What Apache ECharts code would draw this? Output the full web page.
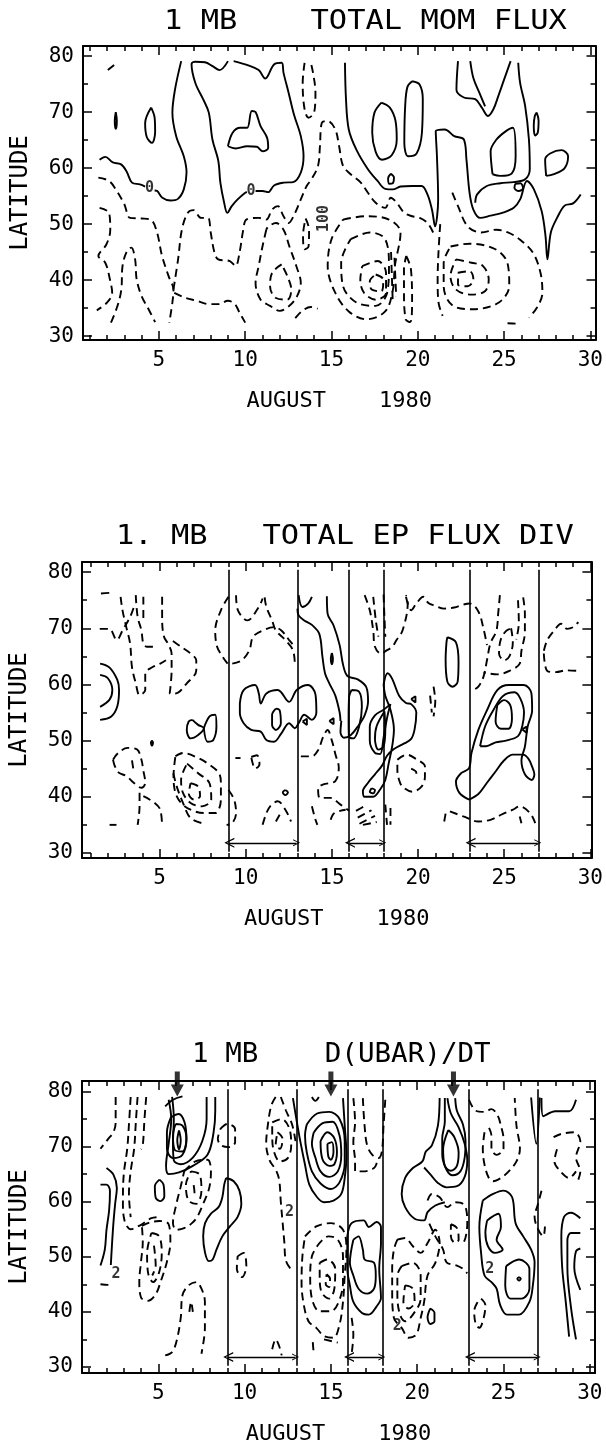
<!DOCTYPE html>
<html>
<head>
<meta charset="utf-8">
<script src="https://cdn.jsdelivr.net/npm/echarts@6/dist/echarts.min.js"></script>
<style>
html,body{margin:0;padding:0;background:#fff;}
#chart{width:606px;height:1446px;}
</style>
</head>
<body>
<div id="chart"></div>
<script>
// ---------------- DATA ----------------
const dayTicks = [1,2,3,4,5,6,7,8,9,10,11,12,13,14,15,16,17,18,19,20,21,22,23,24,25,26,27,28,29,30];
const dayLabels = [5,10,15,20,25,30];
const latMinor = [30,35,40,45,50,55,60,65,70,75,80];
const latLabels = [30,40,50,60,70,80];
const titles = ["1 MB    TOTAL MOM FLUX", "1. MB   TOTAL EP FLUX DIV", "1 MB    D(UBAR)/DT"];
const xTitle = "AUGUST    1980";
const yTitle = "LATITUDE";
const periods = [[9,13],[16,18],[23,27]];
const arrowDays = [6.1, 15, 22.1];

// Panel 1: total momentum flux (solid = positive / zero, dashed = negative)
const p1Solid = [
 [[2.5,70],[2.56,68.5],[2.5,67],[2.44,68.5],[2.5,70]],
 [[4.55,70.8],[4.75,69],[4.78,66.5],[4.6,64.5],[4.3,65.5],[4.2,68],[4.55,70.8]],
 [[1.56,61.5],[1.89,62],[2.33,61],[2.78,60.7],[3.11,59.5],[3.44,57.4],[3.9,57.1],[4.2,56.7]],
 [[4.75,56],[4.9,55.9],[5.2,54.7],[5.67,54.2],[6.1,54.5],[6.44,56.2],[6.6,59.2],[6.44,62.1],[6,65.7],[5.78,69.9],[5.93,74],[6.29,79.1]],
 [[9.0,79.1],[8.51,77.5],[8.11,78.2],[7.67,78.9],[7.1,79.0],[6.89,78.6],[7.11,75.2],[7.56,72.3],[7.89,69.9],[8.1,65.1],[8.44,61.3],[8.56,57.4],[8.78,53.8],[8.96,52],[9.22,53.2],[9.56,54.4],[10.0,55.6],[10.1,55.7]],
 [[10.6,55.9],[11.0,55.9],[11.33,55.7],[11.67,56.9],[12.22,57.4],[12.78,57.5],[13.22,59.2],[13.38,62.1],[13.22,65.7],[12.82,69.6],[12.51,73.5],[12.22,77],[12.11,78.8],[11.67,78.5],[11.16,76],[10.78,77.5],[10.22,78.3],[9.33,79.1]],
 [[9,63.9],[9.27,66.3],[9.71,67.2],[10.11,67.2],[10.38,70.2],[10.6,70],[10.89,67.5],[11.27,65.4],[11.33,63.6],[11,63],[10.67,63.8],[10.11,63.9],[9.44,63.5],[9,63.9]],
 [[15.78,78.8],[15.84,72.3],[16,66.9],[16.44,63.3],[17.11,59.8],[17.67,57.7],[18.11,56.3],[18.56,56.2],[19,56.7],[19.67,56.8],[20.22,56.8],[20.56,55.3],[20.82,52.6],[21,49.6],[21.18,54.4],[21.11,62.1],[21.04,66.6],[21.56,66.9],[22.11,65.7],[22.67,65.1],[22.82,61.5],[23,55.6],[23.22,52.6],[23.62,51.1],[24.22,51.5],[24.89,52],[25.56,52.9],[25.93,54.4],[26.33,57.7],[26.73,56.2],[27.18,52.3],[27.4,47.9],[27.51,43.7],[27.71,48.5],[28.07,51.1],[28.51,53.3],[29,53.7],[29.44,55.3]],
 [[18.44,59],[18.62,58.3],[18.55,57.3],[18.35,57.2],[18.28,58.2],[18.44,59]],
 [[25.65,57.2],[25.95,57.3],[26.1,56.4],[25.85,55.9],[25.6,56.5],[25.65,57.2]],
 [[17.89,71.7],[18.38,70.8],[18.71,68.4],[18.78,65.1],[18.49,62.3],[17.93,61.5],[17.56,62.9],[17.36,66.3],[17.49,69.9],[17.89,71.7]],
 [[19.67,75.5],[20.11,74.9],[20.29,72.3],[20.24,66.3],[19.93,62.6],[19.44,62.1],[19.22,64.5],[19.27,71.1],[19.4,74.5],[19.67,75.5]],
 [[22.33,79.1],[22.24,74],[22.67,72.6],[23.33,72.3],[23.71,70.8],[24.07,69.3],[24.38,70.5],[24.67,72.9],[25,75.8],[25.38,79.1]],
 [[23.04,79.1],[23.22,76.1],[23.56,73.5],[23.9,71]],
 [[25.82,78.8],[25.93,75.2],[26.22,71.1],[26.44,65.1],[26.49,59.8],[26.22,58],[25.56,57.5],[24.78,57.3],[24,56.8],[23.44,55.3],[23.33,53.8]],
 [[24.33,58.9],[24.22,63],[24.56,65.1],[25.11,66.6],[25.51,67.2],[25.67,62.1],[25.44,59],[24.78,58.6],[24.33,58.9]],
 [[26.89,69.9],[27.0,68.5],[26.95,66.3],[26.8,65.8],[26.72,67.5],[26.78,69.3],[26.89,69.9]],
 [[27.44,58.6],[27.38,61.5],[27.67,62.6],[28.33,63.2],[28.71,62.1],[28.51,60],[27.89,58.9],[27.44,58.6]]
];
const p1Dashed = [
 [[2.04,77.5],[2.55,78.8]],
 [[1.49,58.3],[2.11,57.7],[2.56,55.9],[3,53.5],[3.33,51.1],[4,51],[4.56,50.7],[4.89,48.5],[5.18,44.3],[5.56,40.7],[5.84,38.3],[5.78,36],[5.6,32.4]],
 [[5.84,38.3],[6.11,43.7],[6.33,49],[6.67,52],[7,52.5],[7.44,51.1],[7.84,51.1],[8,48.5],[8.22,44.9],[8.44,43.7],[9.11,43.4],[9.44,42.5],[9.67,44.9],[9.89,49],[10.07,50.8],[10.78,51.1],[11.22,50.8],[11.56,52.6],[11.89,53.2],[12.22,51.4],[12.51,50.2],[12.89,52],[13.22,54.4],[13.56,56.8],[13.84,58],[14.22,60.4],[14.33,63.9],[14.44,68.1],[14.78,68.4],[15.22,66.9],[15.44,63.9],[15.67,60.4],[16.11,58.9],[16.67,57.5],[17.11,55.6],[17.56,53.8],[18.11,52.9],[18.44,54.7],[18.78,53.8],[19.22,52],[19.67,51.4],[20.11,51.1],[20.56,50.2],[20.89,48.5]],
 [[13.44,78.8],[13.33,75.2],[13.44,70.5],[13.67,69],[14,70],[14.07,73.5],[13.93,77],[13.78,79.1]],
 [[1.56,52.9],[2.11,52],[2.18,49],[1.96,46.4],[1.49,44.3],[1.89,43.1],[2.16,40.1],[2.29,37.7],[2,36],[1.4,34.6]],
 [[2.22,32.4],[2.6,35.4],[2.82,38.3],[2.89,42.5],[3.11,44.9],[3.4,45.8],[3.62,43.7],[3.71,40.1],[4,37.1],[4.4,34.8],[4.78,32.5]],
 [[5.89,37.7],[6.56,36.8],[7.22,36.3],[7.89,35.7],[8.44,35.7],[9,36.3],[9.4,35.7],[9.67,34.2],[10,32.4]],
 [[11.22,49],[11,46],[10.78,42.5],[10.6,39.5],[10.89,36.5],[11.44,35.4],[12,34.5],[12.56,35.4],[13,37.1],[13.22,39.5],[12.96,42.5],[12.56,46],[12.22,49],[11.78,50.2],[11.33,49.5],[11.22,49]],
 [[12.11,42.8],[11.56,41.3],[11.44,38.9],[11.78,36.8],[12.44,36.5],[12.67,38.3],[12.44,40.7],[12.11,42.8]],
 [[12.9,33.2],[13.3,34.5],[13.8,35.2],[14.2,34.9]],
 [[13.5,51],[13.7,49],[13.67,46],[13.44,45.5],[13.35,48],[13.5,51]],
 [[15.67,50.8],[17,51.4],[18.33,50.8],[19,48.5],[18.67,42.5],[18.56,38.3],[18.11,34.4],[17,33],[16,34.4],[15.22,37.7],[14.78,42.5],[15,47.3],[15.67,50.8]],
 [[16.11,47.3],[17.22,48.5],[18.11,47.3],[18.33,42.5],[18.22,37.7],[17.56,35.4],[16.44,36],[15.67,38.9],[15.56,43.1],[16.11,47.3]],
 [[16.78,42.5],[17.67,43.4],[18.16,41.3],[18.16,37.7],[17.56,36.5],[16.89,37.7],[16.67,40.1],[16.78,42.5]],
 [[17.56,41],[18,40.1],[17.89,38],[17.33,38.3],[17.22,39.8],[17.56,41]],
 [[18.45,45],[18.55,36]],
 [[18.65,44],[18.75,37]],
 [[19.33,44.3],[19.6,42],[19.67,36],[19.56,32.5],[19.3,33],[19.2,38],[19.2,42],[19.33,44.3]],
 [[22,55.6],[22.33,53.2],[22.89,49.6],[23.67,48.5],[24.56,49],[25.22,48.5],[25.89,47.3],[26.67,44.9],[27.11,41.3],[27.22,37.7],[26.89,35],[26.44,33.3]],
 [[21.9,46],[23,46.5],[24.5,45.5],[25.2,43],[25.3,39],[24.7,36],[23.2,34.8],[22,35.5],[21.5,39],[21.5,43],[21.9,46]],
 [[22.22,43.7],[23.11,43.1],[23.78,42.5],[24.11,40.1],[23.89,38],[23.11,37.4],[22.22,38.3],[21.89,40.7],[22.22,43.7]],
 [[22.33,41.3],[23,41.6],[23.22,40.1],[22.89,38.9],[22.33,39.2],[22.33,41.3]],
 [[21.3,50],[21.2,45],[21.15,40],[21.2,36],[21.44,33.6]],
 [[25.2,32.3],[25.8,32.2]]
];
const p1Labels = [[4.45,56.4,"0"],[10.33,55.8,"0"],[14.6,51,"100"]];

// Panel 2: total EP flux divergence
const p2Solid = [
 [[1.55,63.7],[2.1,63],[2.55,60.8],[2.65,59],[2.55,56.1],[2.2,54.3],[1.55,53.7]],
 [[1.55,61.7],[2.0,61.1],[2.26,59],[2.1,57.3],[1.55,56]],
 [[6.91,53.7],[7.24,52.8],[7.57,52.2],[7.24,51],[6.8,50.4],[6.58,51.9],[6.69,53.4],[6.91,53.7]],
 [[7.57,52.2],[7.9,54.3],[8.23,54.6],[8.3,52.5],[8.12,50.1],[7.79,49.8],[7.57,52.2]],
 [[4.56,50],[4.62,49.6],[4.56,49.1],[4.5,49.6],[4.56,50]],
 [[9.66,56.6],[9.88,59],[10.54,59.9],[10.76,58.4],[10.87,56.6],[11.2,58.4],[11.86,59],[12.52,56.9],[12.96,59],[13.62,59.9],[14.05,58.2],[14.1,55],[13.84,53.7],[13.4,54.6],[13.07,53.1],[12.85,52.2],[12.52,53.1],[12.07,51.3],[11.64,49.8],[11.2,50.1],[10.87,51.6],[10.32,51.9],[9.88,53.1],[9.66,54.9],[9.66,56.6]],
 [[11.75,55.7],[11.97,55.4],[12.04,53.1],[11.75,51.9],[11.53,52.8],[11.53,54.6],[11.75,55.7]],
 [[13.3,53.4],[13.55,53.9],[13.55,52.8],[13.3,53.4]],
 [[14.85,53.5],[15.1,54],[15.1,52.9],[14.85,53.5]],
 [[19.6,57.4],[19.85,57.9],[19.85,56.8],[19.6,57.4]],
 [[26.05,52],[26.3,52.5],[26.3,51.4],[26.05,52]],
 [[12.3,41.2],[12.45,40.8],[12.3,40.3],[12.15,40.8],[12.3,41.2]],
 [[13.07,75.9],[13.29,73.8],[13.62,74.4],[13.84,75.6]],
 [[13.0,73.5],[13.07,72.3],[13.4,71.4],[13.84,70.6],[14.27,69],[14.45,65],[14.6,62],[14.85,60.2],[15.2,58],[15.45,55],[15.5,53.5]],
 [[15.0,65.6],[15.06,64.6],[15.0,63.6],[14.94,64.6],[15.0,65.6]],
 [[14.71,75.7],[14.75,72.6],[15.1,70.5],[15.45,67],[15.65,63.5],[15.9,61.5],[16.5,60.9],[17,59.5],[17.1,57],[16.9,54.5],[16.5,52.5],[16.1,51],[15.7,50.5],[15.5,51.5],[15.55,53.5]],
 [[16.14,59],[16.58,58.7],[16.74,56],[16.58,52.5],[16.25,50.4],[15.99,50.7],[15.97,53.7],[16,57.8],[16.14,59]],
 [[18.0,60],[18.23,62],[18.5,61],[18.9,58],[19.3,56.7],[19.6,56.5],[19.9,55],[19.8,52],[19.6,50.3],[19.2,49.5],[18.6,48.5],[18.2,47.3],[17.9,45.5],[17.5,44],[17.1,42.5],[16.8,41],[16.9,40],[17.4,40],[17.8,41.3],[18.1,43],[18.3,46],[18.5,49],[18.6,52],[18.4,55.5],[18.1,58],[18.0,60]],
 [[18.4,56.5],[18.2,54],[18.0,50.5],[17.8,47.6],[17.5,47.8],[17.2,50],[17.2,52.5],[17.5,54.5],[18.0,55.5],[18.4,56.5]],
 [[18.05,55.2],[18.1,52],[18.0,49],[17.7,48.4],[17.5,50.3],[17.6,52.6],[18.05,55.2]],
 [[17.3,41.5],[17.5,41.2],[17.4,40.6],[17.2,40.9],[17.3,41.5]],
 [[21.7,68.4],[22.2,67.5],[22.35,64],[22.3,60.5],[22.0,59.6],[21.7,60.5],[21.6,64.5],[21.65,67.5],[21.7,68.4]],
 [[22.96,39.5],[22.4,40.7],[22.2,42.7],[22.5,44.2],[22.96,45.1],[23.1,47.8],[23.5,51.9],[24,55.4],[24.6,59],[25.26,59.9],[26.14,59.9],[26.58,58.4],[26.62,55.4],[26.36,52.5],[26.2,48.9],[26.0,46.5],[26.2,44],[26.6,43],[26.75,44],[26.6,45.5],[26.4,46.8],[26.1,47.5],[25.5,47.5],[25,46.5],[24.5,44.5],[24.0,42.5],[23.5,40.5],[22.96,39.5]],
 [[23.6,49],[23.9,52.6],[24.4,55.6],[24.95,58],[25.6,58.6],[25.95,57.4],[26.15,55],[26.05,52.6],[25.8,50.8],[25.1,50],[24.5,49.7],[23.95,49],[23.6,49]],
 [[24.6,56.3],[25.0,57.2],[25.35,56.3],[25.45,53.9],[25.25,52.1],[24.8,52.1],[24.5,53.4],[24.6,56.3]]
];
const p2Dashed = [
 [[1.6,76.2],[2.1,76.3]],
 [[2.74,75.6],[2.85,73.2],[3.07,70.2],[3.29,67.3],[3.4,63.1],[3.62,60.2],[3.84,58.1],[4.17,59],[4.17,62],[4.6,63.1],[5.04,63.7],[5.37,64.3]],
 [[3.62,75.9],[3.73,72],[3.95,69.6],[4.06,67.3],[4.28,66.7],[4.72,66.7]],
 [[4.06,75.6],[4.06,71.4]],
 [[5.15,75.6],[5.15,71.4],[5.26,68.5],[5.48,67.3],[5.7,65.5],[5.7,62.5],[5.59,58.4],[5.92,58.4],[6.58,60.2],[7.13,62.5],[7.13,64.3],[6.8,65.5],[6.25,66.7],[5.7,67.9]],
 [[1.53,69.9],[2.08,69.9],[2.52,67.9],[2.85,69.6],[3.29,72],[3.51,73.8]],
 [[9,75.6],[8.56,73.2],[8.23,69.6],[8.34,66.7],[8.67,64.9],[8.95,63.7]],
 [[9.44,75.9],[9.55,73.2],[10.1,71.4],[10.76,73.8],[10.98,75.3]],
 [[11.1,75.5],[11.2,73.8],[11.53,71.4],[11.75,69.6],[12.3,67.9],[12.74,66.1],[12.85,63.7]],
 [[9.22,63.7],[9.77,64.3],[10.21,66.1],[10.43,68.5],[10.98,69.6],[11.64,70.2],[12.07,69.6],[12.52,67.9],[12.85,66.7]],
 [[2.3,46.6],[2.6,47.8],[3.15,48.7],[3.7,48.4],[3.95,46.6],[4.05,44.8],[4.17,42.5],[3.95,41.6],[3.5,42.5],[3.07,43.7],[2.63,44.3],[2.4,45.5],[2.3,46.6]],
 [[3.4,46.5],[3.5,44.5]],
 [[3.84,40.7],[3.84,38.3],[3.73,35]],
 [[4.06,40.1],[4.72,38.9],[5.04,37.7],[5.15,34.7]],
 [[5.92,47.2],[6.36,47.8],[7.24,46.9],[7.9,45.7],[8.45,44.2],[8.56,42.4],[8.56,39.5],[8.23,37.1],[7.57,37.1],[6.8,37.7],[6.25,38.9],[5.92,40.7],[5.81,43.6],[5.92,47.2]],
 [[6.6,45.9],[7.24,44.2],[7.9,42.4],[8.0,39.5],[7.46,38.3],[6.8,38.9],[6.36,40.7],[6.25,43],[6.6,45.9]],
 [[6.8,42.4],[7.24,41.8],[7.35,40.1],[7.0,39.5],[6.7,40.5],[6.8,42.4]],
 [[5.8,44.2],[6.0,41.8],[6.36,38.9],[6.8,36.2],[7.46,35.3]],
 [[9,41.2],[9.33,39.5],[9.44,37.1],[9.22,35.3],[8.89,35]],
 [[10.32,47.1],[10.65,47.4],[10.8,45.8],[10.54,45],[10.4,46],[10.32,47.1]],
 [[9.4,46.9],[9.7,46.9]],
 [[10.98,35],[11.2,37.1],[11.42,38.3],[11.86,39.2],[12.3,37.7],[12.63,35.6]],
 [[11.75,35.6],[11.97,36.8]],
 [[13.2,47.2],[13.84,47.2],[14.2,48.3],[14.5,50.7],[14.75,51.9],[15.0,50],[15.2,47.6],[15.4,45.2],[15.2,42.8],[14.5,42.2],[14.2,41.6],[14.3,39.8],[14.9,39.8],[15.5,38.6],[16,37.5]],
 [[13.84,38.3],[14.05,35.9],[14.16,35]],
 [[14.93,35.9],[15.15,37.1],[15.8,37.7]],
 [[16.4,37.5],[17.0,38.5]],
 [[16.5,36.3],[17.3,37.6]],
 [[16.6,35.2],[17.5,36.6]],
 [[16.8,35],[17.6,35.5]],
 [[18.1,38.6],[18.2,35]],
 [[18.4,38],[18.4,35]],
 [[16.9,75.9],[17.2,73.2],[17.4,69.6],[17.5,66.7],[17.85,65.5],[18.2,66.1],[18.5,66.7],[18.75,67.9],[19.1,69.6],[19.4,74.4],[19.3,75.9]],
 [[17.4,75.6],[17.55,71.4],[17.7,68.5]],
 [[18.0,76],[18.05,72],[18.1,68.5]],
 [[19.3,75.6],[19.6,73.2],[19.9,74.4],[20.3,75.6],[20.6,74.5],[21.0,74],[21.5,73.5],[22.1,73.7],[22.6,74.2],[23.0,74.4],[23.5,73],[23.8,69.9],[24.0,67]],
 [[20.9,59.6],[21.0,57],[20.9,54.3]],
 [[20.7,58],[20.8,55]],
 [[18.8,46.6],[19.33,47.5],[19.95,46.6],[20.4,45.4],[20.4,43.6],[20.2,41.8],[19.66,40.9],[19.1,41.8],[18.9,43],[18.8,44.8],[18.8,46.6]],
 [[19.6,45],[19.9,44.3],[19.9,43.3]],
 [[21.85,37.4],[22.63,36.5],[23.5,35.6],[24.2,35.9],[24.82,36.8],[25.5,37.7],[25.9,38.3],[26.5,37.1],[26.8,35.3]],
 [[21.6,37],[21.5,35.3]],
 [[25.9,36.5],[26.0,35.3]],
 [[24.75,75.9],[24.65,72.6],[24.55,69.6],[24.2,67.3],[24,64.3],[23.8,61.4],[23.5,59.6],[23.2,59]],
 [[26.1,75.5],[26.2,72.6],[26.2,69.3],[26.0,66],[25.9,63.7],[25.3,62.4],[24.6,61.8],[23.8,62.1]],
 [[25.4,70],[25.5,67.5],[25.3,65],[25.0,64.3],[24.7,65.5],[24.8,68],[25.1,69.5],[25.4,70]],
 [[25.8,75],[25.85,71],[25.7,68]],
 [[27.3,66],[27.5,67.9],[27.9,69.6],[28.3,70.8],[28.65,69.9],[29.0,70.2],[29.3,71.1]],
 [[27.3,65.5],[27.5,62.4],[28.0,62.2],[28.6,62.5],[29.3,62.4]],
 [[2.1,35],[2.5,35]]
];
const p2Labels = [];

// Panel 3: d(ubar)/dt
const p3Solid = [
 [[2.0,66.1],[2.4,64.9],[2.6,62.5],[2.5,59.6],[2.4,56.1],[2.3,51.3],[2.25,48.5]],
 [[1.65,63.1],[2.0,63.1],[2.2,61.9],[2.15,58.4],[2.0,54.9],[1.9,51.3],[1.65,48.4]],
 [[5.6,78.5],[5.75,75],[5.6,70.5],[5.45,66.5],[5.6,65],[6.2,65.3],[7.0,66.5],[7.85,68.5],[8.2,72.5],[8.3,76.5],[8.3,79]],
 [[5.8,79],[5.9,75],[5.85,70.5],[5.9,67.5],[6.3,66.8],[7.0,68],[7.55,71],[7.8,75],[7.8,79]],
 [[5.73,75.3],[6.18,75.9],[6.52,74.4],[6.63,71.4],[6.4,68.5],[5.85,67.9],[5.5,69.6],[5.5,72.6],[5.73,75.3]],
 [[6.0,74.1],[6.4,73.8],[6.63,71.4],[6.4,69.1],[5.95,69.4],[5.85,72],[6.0,74.1]],
 [[6.2,72.9],[6.3,71.1],[6.2,69.5],[6.1,71.1],[6.2,72.9]],
 [[5.4,77.3],[5.85,78.5],[6.4,79.1]],
 [[5.07,64],[5.3,63.1],[5.35,61],[5.13,60.1],[4.85,60.7],[4.8,62.8],[5.07,64]],
 [[8.93,64.3],[9.37,63.7],[9.7,62],[9.81,59.6],[9.59,57.2],[9.15,55.5],[8.71,53.7],[8.37,51.3],[8.15,49.5],[7.93,49.2],[7.71,50.7],[7.6,53.7],[7.71,56.1],[8.04,57.8],[8.49,59],[8.71,60.8],[8.82,63.1],[8.93,64.3]],
 [[12.8,78.8],[13.0,75],[13.2,71.4],[13.5,66.7],[13.75,63.1],[14.2,60.8],[14.6,59.9],[15.15,60.2],[15.6,61.4],[15.8,64.3],[15.9,68.5],[15.8,73.8],[15.7,78.8]],
 [[13.6,74],[14.2,76],[14.9,76.3],[15.5,75],[15.8,71],[15.8,67],[15.5,63.5],[15.0,62.3],[14.4,63.3],[13.9,65.5],[13.6,69],[13.5,72],[13.6,74]],
 [[14.0,72.5],[14.5,74.2],[15.1,74.5],[15.5,72],[15.6,68.5],[15.4,65.5],[14.9,64.5],[14.4,65.5],[14.1,68],[13.9,70.5],[14.0,72.5]],
 [[14.4,71],[14.8,72.6],[15.2,71.5],[15.35,69],[15.2,66.8],[14.9,66.5],[14.5,67.8],[14.4,71]],
 [[14.8,70.5],[15.05,70.8],[15.15,69],[15.0,67.6],[14.85,68.2],[14.8,70.5]],
 [[13.9,79],[14.1,78.3],[14.3,79]],
 [[15.95,53.7],[16.2,56.1],[16.9,56.6],[17.2,55.4],[17.65,56.3],[17.9,55.4],[17.9,52.5],[17.8,47.8],[17.9,42.5],[17.65,41],[17.2,39.5],[16.8,39.8],[16.3,41.8],[16.1,44.8],[15.95,47.8],[15.95,53.7]],
 [[16.3,53.1],[16.6,53.7],[16.85,51.3],[16.95,49.5],[17.5,48.9],[17.6,46.6],[17.5,44.2],[17.1,43.3],[16.6,44.2],[16.3,46.6],[16.1,48.9],[16.3,53.1]],
 [[21.3,78.8],[21.2,73.8],[20.85,70.2],[20.5,69.1],[20.3,67.3],[19.75,66.1],[19.3,64.3],[19.1,61.4],[19.3,59],[19.85,56.9],[20.4,56.6],[20.6,58.1],[21.05,59.3],[21.6,59.9]],
 [[21.75,78.8],[21.95,76],[22.4,73.5],[22.75,70.5],[22.9,67.5],[22.75,64.5],[22.3,62.8],[21.7,62.6],[21.2,63.4],[20.8,64.8],[20.4,66.2]],
 [[22.2,78.8],[22.3,76.5],[22.65,74],[22.8,71],[22.75,68],[22.5,65.5],[22.05,64.8],[21.7,65.8],[21.45,68.5],[21.45,71.5],[21.6,74.5],[21.6,78.8]],
 [[21.8,73],[22.15,71.7],[22.4,68.9],[22.3,66.5],[21.95,65.6],[21.6,66.5],[21.5,69.5],[21.8,73]],
 [[20.75,40.6],[21.0,39.8],[21.0,38.3],[20.75,37.8],[20.6,39],[20.75,40.6]],
 [[23.8,60.2],[24.4,61.4],[25.0,62],[25.5,60.8],[25.7,56.1],[26.14,53.7],[26.6,51.3],[26.8,49],[26.7,44.8],[26.5,41.8],[25.9,39.5],[25.2,39.5],[24.8,41.3],[24.6,44.2],[24.3,45.4],[23.9,46.6],[23.7,50.7],[23.6,55.4],[23.8,60.2]],
 [[24.05,56.6],[24.7,57.8],[24.85,55.4],[24.6,53.1],[24.95,51.3],[24.5,50.7],[24.1,51.9],[23.95,54.3],[24.05,56.6]],
 [[25.15,48.3],[25.9,49.5],[26.5,47.8],[26.5,44.2],[26.05,42.4],[25.4,42.4],[25.1,44.8],[25.15,48.3]],
 [[25.9,46.3],[26.0,46],[25.9,45.7],[25.8,46],[25.9,46.3]],
 [[26.6,78.9],[26.9,70.5],[27.1,78.9]],
 [[27.2,78.8],[27.3,75.5],[28.0,76.4],[28.8,76.4],[29.2,78.5]],
 [[29.45,57],[28.9,58],[28.5,57.2],[28.35,53.7],[28.4,48],[28.6,42],[28.8,35.5]],
 [[29.45,54.3],[28.9,54.3],[28.7,53],[28.7,48],[28.9,41],[29.2,35]],
 [[29.45,51.5],[29.2,51],[29.1,48],[29.45,44]]
];
const p3Dashed = [
 [[1.65,45],[2.1,44.9],[2.3,45.3]],
 [[2.53,79],[2.53,74.4],[2.4,72.6],[2.1,71.4],[1.65,69.6]],
 [[3.4,79],[3.3,74],[3.2,69.6],[3.0,65],[2.95,60],[3.05,56.5],[3.4,55],[4.0,55.8],[4.6,57],[5.1,57.2]],
 [[3.8,79],[3.7,74.5],[3.6,69.6],[3.4,65.5],[3.3,61.4],[3.4,57.2]],
 [[4.3,79],[4.2,75],[4.1,70.2],[4.0,69.5]],
 [[4.05,55.6],[4.5,56.2],[5.05,56.5],[5.6,55.9],[5.7,52.7],[5.5,49.1],[5.15,45.6],[4.85,43.2],[4.4,42],[4.0,42.6],[3.9,45.6],[4.0,49.1],[4.1,52.7],[4.05,55.6]],
 [[4.6,54.3],[5.05,53.7],[5.2,50.7],[5.05,47.2],[4.7,45.4],[4.4,47.2],[4.35,50.7],[4.6,54.3]],
 [[4.75,52],[4.85,48.4],[4.65,46.6]],
 [[6.5,65.5],[7.15,67.3],[7.85,67.6],[8.05,65.5],[7.95,62.5],[7.6,59.6],[7.25,57.2],[6.95,56.1],[6.5,55.2],[6.05,54.9],[5.85,56.1],[6.05,59.6],[6.28,62.5],[6.5,65.5]],
 [[6.9,65.5],[7.4,64.9],[7.5,62],[7.2,59.6],[6.75,60.2],[6.6,63.1],[6.9,65.5]],
 [[7.05,63],[7.1,61.5],[6.9,61]],
 [[5.4,32.1],[5.8,32.7],[6.06,34.7],[6.3,38.9],[6.4,43],[6.75,44.8],[7.2,45.4],[7.5,44.2],[7.7,41.8],[7.7,37.1],[7.5,32.4]],
 [[6.8,40],[6.9,41.8],[7.0,40]],
 [[9.6,50.1],[9.95,50.7],[10.1,48.3],[9.85,46.3],[9.55,47.8],[9.6,50.1]],
 [[8.6,73.2],[9.0,74.1],[9.45,73.2],[9.45,70.8],[9.1,69.9],[8.65,70.2],[8.45,71.4],[8.6,73.2]],
 [[11.8,79],[11.55,77.5],[11.35,74],[11.25,70.5],[11.45,67.5],[11.8,65.8],[12.0,64],[12.1,59.9],[12.2,56.3],[12.3,52.7],[12.4,49.2],[12.75,47.5]],
 [[11.6,74.4],[12.15,75],[12.6,73.2],[12.7,70.2],[12.5,67.9],[12.05,67.3],[11.7,69.1],[11.6,72],[11.6,74.4]],
 [[11.9,72.6],[12.2,71.4],[12.05,69.6],[11.8,70.2],[11.9,72.6]],
 [[12.1,79],[12.4,76.5],[12.75,74],[12.95,71]],
 [[11.6,33.2],[11.8,35],[12.0,33.8],[12.15,32.1]],
 [[13.5,53.7],[14.15,55.5],[15.0,56.1],[15.7,54.9],[15.9,51.3],[15.8,46.6],[15.7,41.8],[15.5,37.7],[15.15,35.3],[14.6,35.6],[14.15,37.1],[13.7,38.3],[13.4,41.8],[13.3,45.4],[13.35,50.1],[13.5,53.7]],
 [[14.2,51.9],[14.85,53.7],[15.4,53.1],[15.7,50.1],[15.7,45.4],[15.45,41.8],[15.0,40.1],[14.35,40.1],[13.9,42.4],[13.8,46.6],[13.9,50.1],[14.2,51.9]],
 [[14.35,48.9],[14.8,49.5],[15.25,47.8],[15.2,44.2],[14.9,42.4],[14.45,43.6],[14.35,46.6],[14.35,48.9]],
 [[14.75,46.8],[14.95,46],[14.9,44.5],[14.7,45],[14.75,46.8]],
 [[13.95,34.5],[14.0,32.5]],
 [[14.6,35],[15.4,34.4]],
 [[16.3,78.8],[16.4,74.4],[16.3,70.8],[16.4,67.3],[16.4,65.5],[16.85,65.5],[17.5,66.1],[17.7,67.3],[17.85,67.9]],
 [[16.85,78.8],[16.95,73.8],[17.1,70.2],[17.4,68.5],[17.75,67.9],[17.95,69.1],[18.05,73.8],[18.15,78.5]],
 [[16.2,38.9],[16.3,35.9],[16.2,32.4]],
 [[18.85,53.1],[19.3,53.4],[19.75,51.9],[20.2,50.7],[20.6,52.5],[21.05,54.9],[21.3,52.5],[21.05,48.9],[20.6,46.6],[20.4,41.8],[20.2,38.9],[19.95,35.9],[19.5,35.3],[19.1,37.1],[18.65,38.9],[18.55,43.6],[18.55,47.8],[18.65,51.3],[18.85,53.1]],
 [[19.1,48.3],[19.75,48.9],[20.2,46.6],[20.2,42.4],[19.75,39.5],[19.3,38.3],[19.0,39.5],[18.85,43],[18.85,46.6],[19.1,48.3]],
 [[19.3,44.8],[19.75,44.2],[19.85,41.8],[19.5,40.6],[19.2,41.8],[19.3,44.8]],
 [[20.6,60.2],[20.85,61.4],[21.3,60.8],[21.75,59],[22.2,59.9],[22.65,59.6],[22.85,58.4],[22.9,56],[22.8,53.5],[22.6,52]],
 [[20.7,56],[21.05,53.7],[21.5,51.3],[21.7,49],[22.3,48.4],[22.65,47.8],[22.9,47]],
 [[21.95,55.9],[22.3,55.2],[22.4,53.1],[22.2,52.5],[21.95,53.7],[21.95,55.9]],
 [[23.9,72.6],[23.8,69.6],[23.9,66.7],[24.15,64.3],[24.4,63.7],[24.85,64.3],[25.3,65.5],[25.75,67.3],[25.95,69.6],[25.75,73.8],[25.65,78.8]],
 [[23.0,78.5],[23.4,76.5],[23.9,76.3],[24.3,76.8],[24.65,75.7],[24.85,73.8],[25.0,71.4],[25.0,69.6],[24.6,68.5],[24.3,69.6],[24.3,72],[24.1,73.8]],
 [[27.9,71.7],[28.35,72.3],[29.1,72.6],[29.45,71],[29.2,68],[29.45,65.5],[29.3,63.7]],
 [[28.1,69.5],[27.95,67.3],[28.3,65.5],[28.8,64.3],[29.2,65.5]],
 [[27.2,62],[27.0,59.6],[26.8,57.2],[27.0,55],[27.3,53.7],[27.4,55.5]],
 [[23.7,42.4],[23.95,41.2],[23.85,38.9],[23.6,37.1],[23.4,37.7],[23.3,40.1],[23.5,41.8],[23.7,42.4]]
];
const p3Labels = [[2.55,46.8,"2"],[12.6,58.1,"2"],[18.85,37.4,"2"],[24.2,47.8,"2"]];

// ---------------- LAYOUT ----------------
const panels = [
  {solid:p1Solid, dashed:p1Dashed, labels:p1Labels, boxes:false, arrows:false,
   grid:{left:83, top:46, width:520, height:294}, x:[0.6,30.3], y:[29.3,81.8], title:[164,22], tscale:1.17},
  {solid:p2Solid, dashed:p2Dashed, labels:p2Labels, boxes:true, arrows:false,
   grid:{left:76, top:562, width:519, height:296}, x:[0.5,30.06], y:[29.1,81.8], title:[116,537], tscale:1.17},
  {solid:p3Solid, dashed:p3Dashed, labels:p3Labels, boxes:true, arrows:true,
   grid:{left:74, top:1081, width:521, height:298}, x:[0.58,30.3], y:[28.9,81.9], title:[192,1055], tscale:1.06}
];

const FONT = "'DejaVu Sans Mono', 'Liberation Mono', monospace";
const grids = [], xAxes = [], yAxes = [], series = [], graphics = [];

panels.forEach((p, gi) => {
  grids.push(Object.assign({containLabel:false, show:false}, p.grid));
  const xBase = xAxes.length, yBase = yAxes.length;
  const axLine = {show:true, lineStyle:{color:'#000', width:2}};
  xAxes.push({type:'value', gridIndex:gi, min:p.x[0], max:p.x[1], position:'bottom',
    axisLine:axLine, splitLine:{show:false},
    axisTick:{show:true, inside:true, length:5, customValues:dayTicks, lineStyle:{color:'#000', width:1.5}},
    axisLabel:{show:true, customValues:dayLabels, color:'#000', fontSize:21, fontFamily:FONT, margin:10},
    name:xTitle, nameLocation:'middle', nameGap:50,
    nameTextStyle:{color:'#000', fontSize:22, fontFamily:FONT}});
  xAxes.push({type:'value', gridIndex:gi, min:p.x[0], max:p.x[1], position:'bottom',
    axisLine:{show:false}, splitLine:{show:false}, axisLabel:{show:false},
    axisTick:{show:true, inside:true, length:9, customValues:dayLabels, lineStyle:{color:'#000', width:1.5}}});
  xAxes.push({type:'value', gridIndex:gi, min:p.x[0], max:p.x[1], position:'top',
    axisLine:axLine, splitLine:{show:false}, axisLabel:{show:false},
    axisTick:{show:true, inside:true, length:5, customValues:dayTicks, lineStyle:{color:'#000', width:1.5}}});
  xAxes.push({type:'value', gridIndex:gi, min:p.x[0], max:p.x[1], position:'top',
    axisLine:{show:false}, splitLine:{show:false}, axisLabel:{show:false},
    axisTick:{show:true, inside:true, length:9, customValues:dayLabels, lineStyle:{color:'#000', width:1.5}}});
  yAxes.push({type:'value', gridIndex:gi, min:p.y[0], max:p.y[1], position:'left',
    axisLine:axLine, splitLine:{show:false},
    axisTick:{show:true, inside:true, length:5, customValues:latMinor, lineStyle:{color:'#000', width:1.5}},
    axisLabel:{show:true, customValues:latLabels, color:'#000', fontSize:21, fontFamily:FONT, margin:9},
    name:yTitle, nameLocation:'middle', nameGap:50, nameRotate:90,
    nameTextStyle:{color:'#000', fontSize:24, fontFamily:FONT}});
  yAxes.push({type:'value', gridIndex:gi, min:p.y[0], max:p.y[1], position:'left',
    axisLine:{show:false}, splitLine:{show:false}, axisLabel:{show:false},
    axisTick:{show:true, inside:true, length:9, customValues:latLabels, lineStyle:{color:'#000', width:1.5}}});
  yAxes.push({type:'value', gridIndex:gi, min:p.y[0], max:p.y[1], position:'right',
    axisLine:axLine, splitLine:{show:false}, axisLabel:{show:false},
    axisTick:{show:true, inside:true, length:5, customValues:latMinor, lineStyle:{color:'#000', width:1.5}}});
  yAxes.push({type:'value', gridIndex:gi, min:p.y[0], max:p.y[1], position:'right',
    axisLine:{show:false}, splitLine:{show:false}, axisLabel:{show:false},
    axisTick:{show:true, inside:true, length:9, customValues:latLabels, lineStyle:{color:'#000', width:1.5}}});

  const mk = (c, dashed) => ({type:'line', xAxisIndex:xBase, yAxisIndex:yBase, data:c,
    showSymbol:false, symbol:'none', smooth:0.35, silent:true, animation:false,
    lineStyle:{color:'#000', width:1.9, type: dashed ? [8,5] : 'solid'}});
  p.solid.forEach(c => series.push(mk(c, false)));
  p.dashed.forEach(c => series.push(mk(c, true)));
  if (p.labels.length) {
    series.push({type:'scatter', xAxisIndex:xBase, yAxisIndex:yBase, symbolSize:0, silent:true,
      animation:false, clip:false,
      data:p.labels.map(l => ({value:[l[0], l[1]], name:l[2],
        label:{rotate: l[2] === '100' ? 90 : 0}})),
      label:{show:true, position:'inside', formatter:'{b}', color:'#000', fontSize:15,
        fontWeight:'bold', fontFamily:FONT}});
  }
  if (p.boxes) {
    const vlines = [];
    periods.forEach(pr => { vlines.push({coords:[[pr[0],30.2],[pr[0],80.4]]}); vlines.push({coords:[[pr[1],30.2],[pr[1],80.4]]}); });
    series.push({type:'lines', coordinateSystem:'cartesian2d', xAxisIndex:xBase, yAxisIndex:yBase,
      data:vlines, symbol:'none', silent:true, animation:false, lineStyle:{color:'#000', width:1.6, opacity:1}});
    series.push({type:'lines', coordinateSystem:'cartesian2d', xAxisIndex:xBase, yAxisIndex:yBase,
      data:periods.map(pr => ({coords:[[pr[0]+0.05,31.8],[pr[1]-0.05,31.8]]})),
      symbol:['path://M5,0 L10,10 L8.6,10 L5,2.6 L1.4,10 L0,10 Z','path://M5,0 L10,10 L8.6,10 L5,2.6 L1.4,10 L0,10 Z'],
      symbolSize:[10,7], silent:true, animation:false, lineStyle:{color:'#000', width:1.4, opacity:1}});
  }
  if (p.arrows) {
    series.push({type:'scatter', xAxisIndex:xBase, yAxisIndex:yBase, silent:true, animation:false, clip:false,
      symbol:'path://M4,0 L9,0 L9,13 L13,13 L6.5,25 L0,13 L4,13 Z', symbolSize:[13,25],
      itemStyle:{color:'#000'},
      data:arrowDays.map(d => [d, 81.35])});
  }
  graphics.push({type:'text', x:p.title[0], y:p.title[1], scaleX:p.tscale, scaleY:1,
    style:{text:titles[gi], fill:'#000', font:"26px " + FONT, textAlign:'left', textVerticalAlign:'middle'}});
});

const chart = echarts.init(document.getElementById('chart'), null, {renderer:'canvas'});
chart.setOption({
  backgroundColor:'#fff',
  animation:false,
  grid:grids, xAxis:xAxes, yAxis:yAxes, series:series, graphic:graphics
});
</script>
</body>
</html>
